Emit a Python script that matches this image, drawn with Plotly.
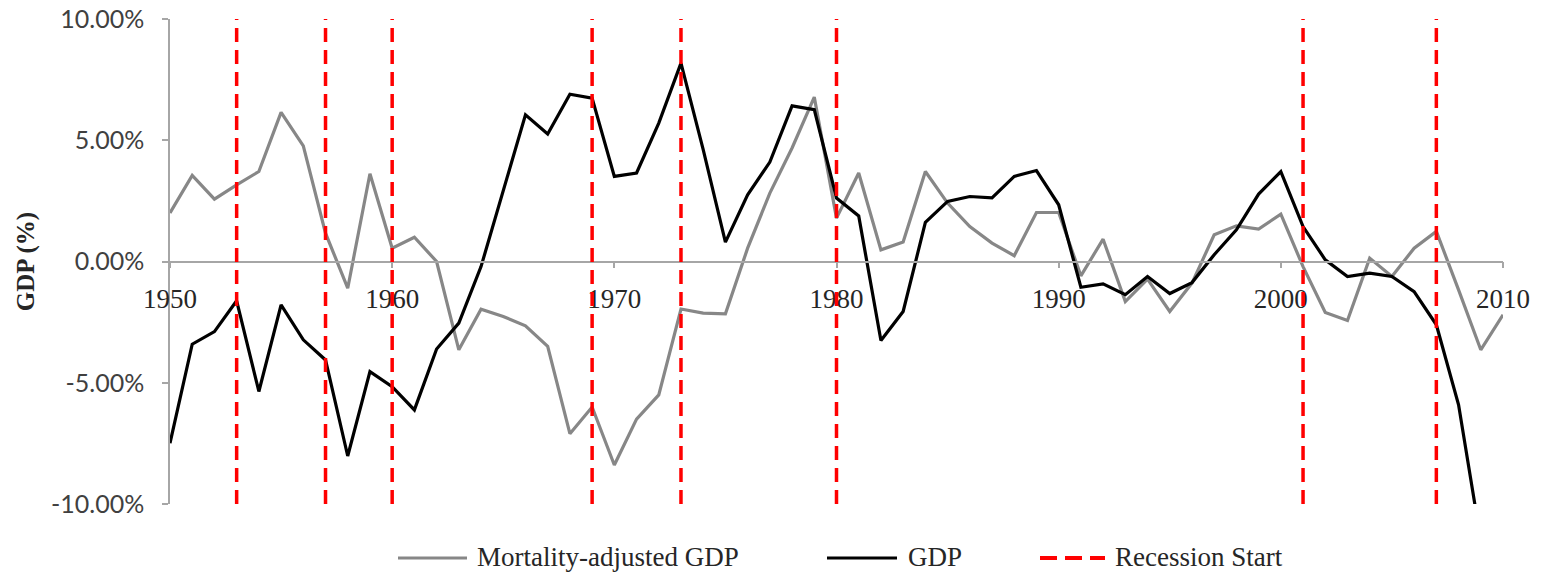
import plotly.graph_objects as go

# ---- data ----
years_adj = list(range(1950, 2011))
mortality_adjusted_gdp = [
    2.0, 3.55, 2.57, 3.16, 3.71, 6.15, 4.77, 1.17, -1.10, 3.62,
    0.55, 1.0, 0.0, -3.64, -1.97, -2.27, -2.65, -3.5, -7.1, -6.0,
    -8.39, -6.5, -5.5, -1.96, -2.13, -2.16, 0.55, 2.82, 4.68, 6.78,
    1.79, 3.65, 0.48, 0.8, 3.71, 2.41, 1.44, 0.76, 0.24, 2.02,
    2.02, -0.59, 0.92, -1.65, -0.73, -2.06, -0.89, 1.1, 1.47, 1.34,
    1.95, -0.21, -2.1, -2.43, 0.14, -0.62, 0.55, 1.24, -1.17, -3.64,
    -2.2,
]
years_gdp = list(range(1950, 2010))
gdp = [
    -7.49, -3.41, -2.89, -1.62, -5.36, -1.79, -3.23, -4.06, -8.02, -4.54,
    -5.16, -6.12, -3.61, -2.54, -0.21, 2.9, 6.05, 5.26, 6.9, 6.74,
    3.51, 3.65, 5.71, 8.18, 4.61, 0.8, 2.75, 4.1, 6.42, 6.26,
    2.62, 1.88, -3.26, -2.06, 1.61, 2.48, 2.68, 2.62, 3.51, 3.75,
    2.34, -1.06, -0.92, -1.37, -0.62, -1.32, -0.87, 0.28, 1.31, 2.78,
    3.71, 1.44, 0.07, -0.62, -0.48, -0.62, -1.24, -2.61, -5.91, -11.5,
]
recession_starts = [1953, 1957, 1960, 1969, 1973, 1980, 2001, 2007]
x_ticks = [1950, 1960, 1970, 1980, 1990, 2000, 2010]
y_ticks = [-10, -5, 0, 5, 10]
y_tick_text = ["-10.00%", "-5.00%", "0.00%", "5.00%", "10.00%"]
legend_labels = ["Mortality-adjusted GDP", "GDP", "Recession Start"]

# ---- style ----
W, H = 1543, 575
ML, MT, MR, MB = 170, 19, 40, 71
PW, PH = W - ML - MR, H - MT - MB
GRAY = "#878787"
BLACK = "#000000"
RED = "#ff0000"
AXIS = "#a6a6a6"
SERIF = "Liberation Serif"


def px_x(px):
    return (px - ML) / PW


def px_y(py):
    return (H - MB - py) / PH


fig = go.Figure()
fig.add_trace(go.Scatter(x=years_adj, y=mortality_adjusted_gdp, mode="lines",
                         line=dict(color=GRAY, width=3.2), name=legend_labels[0],
                         showlegend=False))
fig.add_trace(go.Scatter(x=years_gdp, y=gdp, mode="lines",
                         line=dict(color=BLACK, width=3.2), name=legend_labels[1],
                         showlegend=False))

for yr in recession_starts:
    fig.add_shape(type="line", xref="x", yref="y", x0=yr, x1=yr, y0=-10, y1=10,
                  line=dict(color=RED, width=3.5, dash="14px,8px"), layer="above")

# manual legend
legend_items = [
    (legend_labels[0], dict(color=GRAY, width=3.2), 398, 467, 475),
    (legend_labels[1], dict(color=BLACK, width=3.2), 827, 897, 906),
    (legend_labels[2], dict(color=RED, width=4, dash="17px,8px"), 1040, 1105, 1113),
]
ly = 558
for label, ln, x0, x1, tx in legend_items:
    fig.add_shape(type="line", xref="paper", yref="paper",
                  x0=px_x(x0), x1=px_x(x1), y0=px_y(ly), y1=px_y(ly), line=ln)
    fig.add_annotation(xref="paper", yref="paper", x=px_x(tx), y=px_y(ly - 1),
                       text=label, showarrow=False, xanchor="left", yanchor="middle",
                       font=dict(family=SERIF, size=27, color="#262626"))

fig.update_layout(
    width=W, height=H,
    margin=dict(l=ML, r=MR, t=MT, b=MB, autoexpand=False),
    plot_bgcolor="white", paper_bgcolor="white",
    showlegend=False,
    xaxis=dict(range=[1950, 2010], anchor="free", position=0.5,
               showline=True, linecolor=AXIS, linewidth=1.5,
               ticks="outside", ticklen=6, tickcolor=AXIS, tickwidth=1.5,
               tickvals=x_ticks, ticklabelstandoff=7,
               ticklabeloverflow="allow",
               tickfont=dict(family=SERIF, size=27, color="#262626"),
               showgrid=False, zeroline=False),
    yaxis=dict(range=[-10, 10], showline=True, linecolor=AXIS, linewidth=1.5,
               ticks="outside", ticklen=6, tickcolor=AXIS, tickwidth=1.5,
               tickvals=y_ticks, ticktext=y_tick_text,
               ticklabelstandoff=13, ticklabeloverflow="allow",
               tickfont=dict(family="Lato", size=25, color="#404040"),
               title=dict(text="<b>GDP (%)</b>", standoff=9,
                          font=dict(family=SERIF, size=25, color="#262626")),
               showgrid=False, zeroline=False),
)

fig.write_html("out.html", config={"displayModeBar": False},
               post_script="document.body.style.margin='0';document.body.style.overflow='hidden';")
